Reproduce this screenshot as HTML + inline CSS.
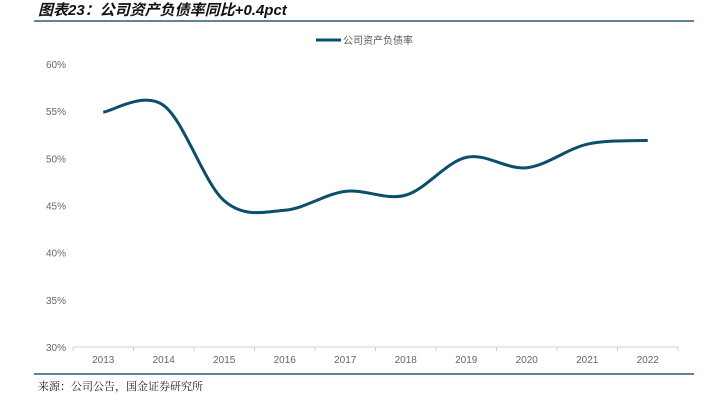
<!DOCTYPE html>
<html><head><meta charset="utf-8"><style>
body{margin:0;background:#fff;width:704px;height:407px;overflow:hidden;font-family:"Liberation Sans","Noto Sans CJK SC",sans-serif}
</style></head><body>
<svg width="704" height="407">
<text x="38" y="15" font-size="15" font-weight="bold" font-style="italic" fill="#111" font-family="Liberation Sans, Noto Sans CJK SC, sans-serif">图表23：公司资产负债率同比+0.4pct</text>
<line x1="34" y1="21" x2="694" y2="21" stroke="#2b5a78" stroke-width="1.5"/>
<g>
<line x1="316" y1="40" x2="341" y2="40" stroke="#0b4f6c" stroke-width="3"/>
<text x="343" y="44" font-size="10" fill="#555">公司资产负债率</text>
</g>
<g id="yaxis"></g>
<g id="xaxis"></g>
<path id="line" fill="none" stroke="#0b4f6c" stroke-width="3"/>
<line x1="34" y1="374" x2="694" y2="374" stroke="#2b5a78" stroke-width="1.5"/>
<text x="38" y="390" font-size="11" fill="#222" font-family="Liberation Serif, Noto Serif CJK SC, serif">来源：公司公告，国金证券研究所</text>
</svg>
<script>
const years=["2013","2014","2015","2016","2017","2018","2019","2020","2021","2022"];
const values=[54.9,55.6,45.5,44.5,46.5,46.1,50.1,49.0,51.5,51.9];
const yTicks=[30,35,40,45,50,55,60];
const NS="http://www.w3.org/2000/svg";
const x0=73,x1=678,yTop=64,yBot=347,yMin=30,yMax=60;
const bw=(x1-x0)/years.length;
const xs=i=>x0+bw*(i+0.5);
const ys=v=>yBot-(v-yMin)/(yMax-yMin)*(yBot-yTop);
const ya=document.getElementById('yaxis'),xa=document.getElementById('xaxis');
yTicks.forEach(t=>{
 const tx=document.createElementNS(NS,'text');
 tx.setAttribute('x',66);tx.setAttribute('y',ys(t)+4);tx.setAttribute('text-anchor','end');
 tx.setAttribute('font-size','10');tx.setAttribute('fill','#666');tx.textContent=t+'%';
 
 
 ya.appendChild(tx);
});
const ax=document.createElementNS(NS,'line');
ax.setAttribute('x1',x0);ax.setAttribute('x2',x1);ax.setAttribute('y1',yBot);ax.setAttribute('y2',yBot);ax.setAttribute('stroke','#d0d0d0');


xa.appendChild(ax);
for(let i=0;i<=years.length;i++){
 const tk=document.createElementNS(NS,'line');
 const x=x0+bw*i;
 tk.setAttribute('x1',x);tk.setAttribute('x2',x);tk.setAttribute('y1',yBot);tk.setAttribute('y2',yBot+4);tk.setAttribute('stroke','#d0d0d0');
 
 
 xa.appendChild(tk);
}
years.forEach((y,i)=>{
 const tx=document.createElementNS(NS,'text');
 tx.setAttribute('x',xs(i));tx.setAttribute('y',363);tx.setAttribute('text-anchor','middle');
 tx.setAttribute('font-size','10');tx.setAttribute('fill','#666');tx.textContent=y;
 
 
 xa.appendChild(tx);
});
const pts=values.map((v,i)=>[xs(i),ys(v)]);
let d='M'+pts[0][0]+','+pts[0][1];
for(let i=0;i<pts.length-1;i++){
 const p0=pts[i-1]||pts[i],p1=pts[i],p2=pts[i+1],p3=pts[i+2]||pts[i+1];
 const c1=[p1[0]+(p2[0]-p0[0])/6,p1[1]+(p2[1]-p0[1])/6];
 const c2=[p2[0]-(p3[0]-p1[0])/6,p2[1]-(p3[1]-p1[1])/6];
 d+=' C'+c1+' '+c2+' '+p2;
}
document.getElementById('line').setAttribute('d',d);
</script>
</body></html>
